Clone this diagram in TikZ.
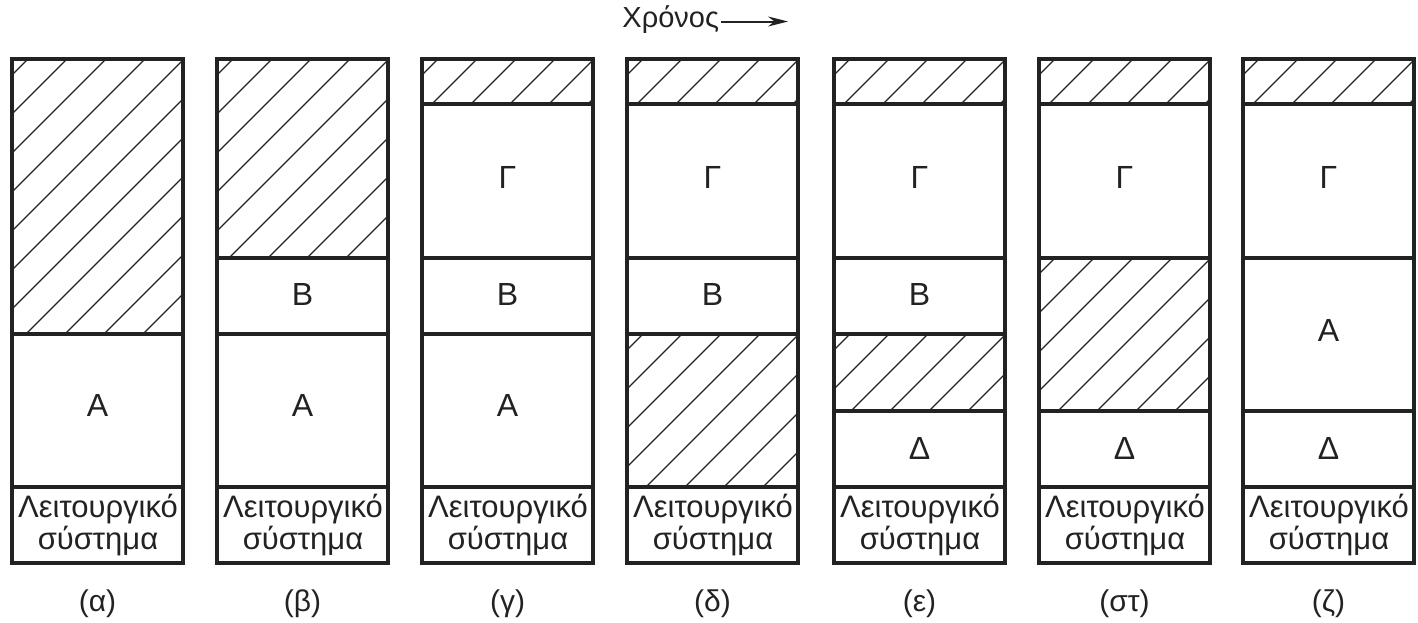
\documentclass[tikz,border=0pt]{standalone}
\usepackage{fontspec}
\setmainfont{Liberation Sans}
\usetikzlibrary{arrows.meta}
\definecolor{ink}{RGB}{34,34,34}
\tikzset{
  box/.style={draw=ink, line width=1.75pt},
  sep/.style={draw=ink, line width=1.75pt},
  hatchline/.style={draw=ink, line width=0.65pt},
  lab/.style={text=ink, font=\fontsize{16pt}{18pt}\selectfont, inner sep=0pt},
  ostext/.style={text=ink, font=\fontsize{15.5pt}{18pt}\selectfont, inner sep=0pt, anchor=base},
  captext/.style={text=ink, font=\fontsize{15pt}{18pt}\selectfont, inner sep=0pt},
}
\newcommand\hatchreg[3]{%
  \begin{scope}
    \clip (#1,#2) rectangle (#1+171,#3);
    \foreach \k in {0,...,13}{
      \draw[hatchline] ({#1+16+39*\k},#2) -- ++(-420,420);
    }
  \end{scope}}
\newcommand\colframe[2]{%
  \draw[box] (#1,59) rectangle (#1+171,563);
  \draw[sep] (#1,487) -- (#1+171,487);
  \node[ostext] (osa#2) at (#1+86,517) {Λειτουργικό};
  \node[ostext] (osb#2) at (#1+86,549) {σύστημα};}
\begin{document}
\begin{tikzpicture}[x=0.5pt,y=-0.5pt]
\useasboundingbox (0,0) rectangle (1418,622);

% title
\node[text=ink, font=\fontsize{14.5pt}{17pt}\selectfont, inner sep=0pt, anchor=west] (time) at (622,20) {Χρόνος};
\coordinate (timeend) at (788,21.5);
\draw[ink, line width=1pt, -{Stealth[length=10pt,width=5pt]}] (time.east |- timeend) ++(2,0) -- (timeend);

% (a)
\hatchreg{12}{59}{334}
\draw[sep] (12,334) -- (183,334);
\node[lab] (a1) at (97.5,405) {Α};
\colframe{12}{a}
\node[captext] (capa) at (97.5,604) {(α)};

% (b)
\hatchreg{217}{59}{258}
\draw[sep] (217,258) -- (388,258);
\draw[sep] (217,334) -- (388,334);
\node[lab] (b2) at (302.5,294) {Β};
\node[lab] (b1) at (302.5,405) {Α};
\colframe{217}{b}
\node[captext] (capb) at (302.5,604) {(β)};

% (c)
\hatchreg{422}{59}{104}
\draw[sep] (422,104) -- (593,104);
\draw[sep] (422,258) -- (593,258);
\draw[sep] (422,334) -- (593,334);
\node[lab] (c3) at (507.5,177) {Γ};
\node[lab] (c2) at (507.5,294) {Β};
\node[lab] (c1) at (507.5,405) {Α};
\colframe{422}{c}
\node[captext] (capc) at (507.5,604) {(γ)};

% (d)
\hatchreg{627}{59}{104}
\hatchreg{627}{334}{487}
\draw[sep] (627,104) -- (798,104);
\draw[sep] (627,258) -- (798,258);
\draw[sep] (627,334) -- (798,334);
\node[lab] (d3) at (712.5,177) {Γ};
\node[lab] (d2) at (712.5,294) {Β};
\colframe{627}{d}
\node[captext] (capd) at (712.5,604) {(δ)};

% (e)
\hatchreg{834}{59}{104}
\hatchreg{834}{334}{411}
\draw[sep] (834,104) -- (1005,104);
\draw[sep] (834,258) -- (1005,258);
\draw[sep] (834,334) -- (1005,334);
\draw[sep] (834,411) -- (1005,411);
\node[lab] (e3) at (919.5,177) {Γ};
\node[lab] (e2) at (919.5,294) {Β};
\node[lab] (e4) at (919.5,448) {Δ};
\colframe{834}{e}
\node[captext] (cape) at (919.5,604) {(ε)};

% (f)
\hatchreg{1039}{59}{104}
\hatchreg{1039}{258}{411}
\draw[sep] (1039,104) -- (1210,104);
\draw[sep] (1039,258) -- (1210,258);
\draw[sep] (1039,411) -- (1210,411);
\node[lab] (f3) at (1124.5,177) {Γ};
\node[lab] (f4) at (1124.5,448) {Δ};
\colframe{1039}{f}
\node[captext] (capf) at (1124.5,604) {(στ)};

% (g)
\hatchreg{1243}{59}{104}
\draw[sep] (1243,104) -- (1414,104);
\draw[sep] (1243,258) -- (1414,258);
\draw[sep] (1243,411) -- (1414,411);
\node[lab] (g3) at (1328.5,177) {Γ};
\node[lab] (g1) at (1328.5,330) {Α};
\node[lab] (g4) at (1328.5,448) {Δ};
\colframe{1243}{g}
\node[captext] (capg) at (1328.5,604) {(ζ)};
\end{tikzpicture}
\end{document}
